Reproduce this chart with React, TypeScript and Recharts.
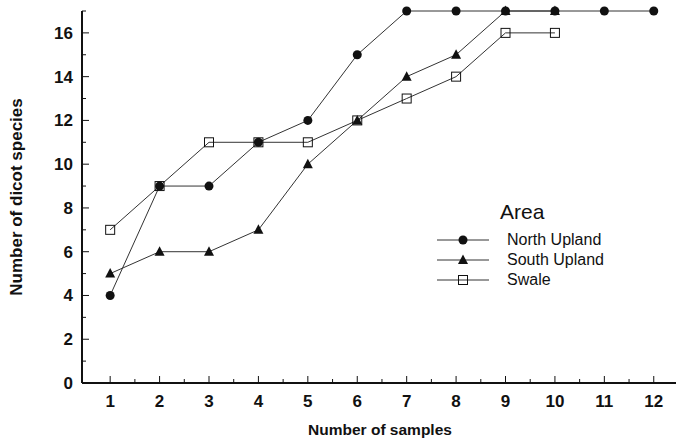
import { LineChart, Line, XAxis, YAxis } from 'recharts';

const samples = [1, 2, 3, 4, 5, 6, 7, 8, 9, 10, 11, 12];
const northUpland = [4, 9, 9, 11, 12, 15, 17, 17, 17, 17, 17, 17];
const southUpland = [5, 6, 6, 7, 10, 12, 14, 15, 17, 17, null, null];
const swale = [7, 9, 11, 11, 11, 12, 13, 14, 16, 16, null, null];

const xTicks = [1, 1.5, 2, 2.5, 3, 3.5, 4, 4.5, 5, 5.5, 6, 6.5, 7, 7.5, 8, 8.5, 9, 9.5, 10, 10.5, 11, 11.5, 12];
const yTicks = [0, 1, 2, 3, 4, 5, 6, 7, 8, 9, 10, 11, 12, 13, 14, 15, 16, 17];

const data = samples.map((n, i) => ({
    n,
    north: northUpland[i],
    south: southUpland[i],
    swale: swale[i],
}));

const FONT = '"Liberation Sans", Arial, Helvetica, sans-serif';
const INK = '#111';

const Circle = (props: any) => {
    const { cx, cy } = props;
    if (cx == null || cy == null) return null;
    return <circle cx={cx} cy={cy} r={4.5} fill={INK} stroke="none" />;
};

const Triangle = (props: any) => {
    const { cx, cy } = props;
    if (cx == null || cy == null) return null;
    return <path d={`M${cx},${cy - 5.5} L${cx + 5},${cy + 4} L${cx - 5},${cy + 4} Z`} fill={INK} stroke="none" />;
};

const Square = (props: any) => {
    const { cx, cy } = props;
    if (cx == null || cy == null) return null;
    return <rect x={cx - 4.5} y={cy - 4.5} width={9} height={9} fill="none" stroke={INK} strokeWidth={1} />;
};

const XTick = (props: any) => {
    const { x, y, payload } = props;
    const major = Number.isInteger(payload.value);
    return (
        <g>
            <line x1={x} y1={y} x2={x} y2={y - (major ? 7 : 4)} stroke={INK} strokeWidth={1} />
            {major && (
                <text x={x} y={y + 24} textAnchor="middle" fontSize={17} fontWeight="bold" fontFamily={FONT} fill={INK}>
                    {payload.value}
                </text>
            )}
        </g>
    );
};

const YTick = (props: any) => {
    const { x, y, payload } = props;
    const major = payload.value % 2 === 0;
    return (
        <g>
            <line x1={x} y1={y} x2={x + (major ? 7 : 4)} y2={y} stroke={INK} strokeWidth={1} />
            {major && (
                <text x={x - 9} y={y + 6} textAnchor="end" fontSize={17} fontWeight="bold" fontFamily={FONT} fill={INK}>
                    {payload.value}
                </text>
            )}
        </g>
    );
};

const legendItems = [
    { name: 'North Upland', Marker: Circle },
    { name: 'South Upland', Marker: Triangle },
    { name: 'Swale', Marker: Square },
];

const AreaLegend = () => (
    <div style={{ position: 'absolute', left: 437, top: 200, width: 220, fontFamily: FONT, color: INK }}>
        <div style={{ fontSize: 21, marginLeft: 63, marginBottom: 6, lineHeight: '24px' }}>Area</div>
        {legendItems.map(({ name, Marker }) => (
            <div key={name} style={{ display: 'flex', alignItems: 'center', height: 20 }}>
                <svg width={52} height={14}>
                    <line x1={0} y1={7} x2={52} y2={7} stroke="#333" strokeWidth={1} />
                    <Marker cx={26} cy={7} />
                </svg>
                <span style={{ fontSize: 16, marginLeft: 18 }}>{name}</span>
            </div>
        ))}
    </div>
);

const XTitle = () => (
    <text x={380} y={435} textAnchor="middle" fontSize={15.5} fontWeight="bold" fontFamily={FONT} fill={INK}>
        Number of samples
    </text>
);

const YTitle = () => (
    <text x={22} y={197} textAnchor="middle" fontSize={17} fontWeight="bold" fontFamily={FONT} fill={INK}
        transform="rotate(-90 22 197)">
        Number of dicot species
    </text>
);

export default function App() {
    return (
        <div style={{ position: 'absolute', left: 0, top: 0, width: 676, height: 441, background: '#fff' }}>
            <LineChart width={676} height={441} data={data}
                margin={{ top: 11, right: 0, left: 81, bottom: 57 }}
            >
                <XAxis dataKey="n" type="number" domain={[0.43, 12.45]} ticks={xTicks} interval={0}
                    height={1} tickSize={0} tickMargin={0} tick={<XTick />}
                    axisLine={{ stroke: INK, strokeWidth: 2 }} tickLine={false} allowDataOverflow
                    label={<XTitle />} />
                <YAxis type="number" domain={[0, 17]} ticks={yTicks} interval={0}
                    width={1} tickSize={0} tickMargin={0} tick={<YTick />}
                    axisLine={{ stroke: INK, strokeWidth: 2 }} tickLine={false}
                    label={<YTitle />} />
                <Line dataKey="swale" name="Swale" stroke="#333" strokeWidth={1} dot={<Square />}
                    activeDot={false} isAnimationActive={false} connectNulls={false} />
                <Line dataKey="south" name="South Upland" stroke="#333" strokeWidth={1} dot={<Triangle />}
                    activeDot={false} isAnimationActive={false} connectNulls={false} />
                <Line dataKey="north" name="North Upland" stroke="#333" strokeWidth={1} dot={<Circle />}
                    activeDot={false} isAnimationActive={false} />
            </LineChart>
            <AreaLegend />
        </div>
    )
}
